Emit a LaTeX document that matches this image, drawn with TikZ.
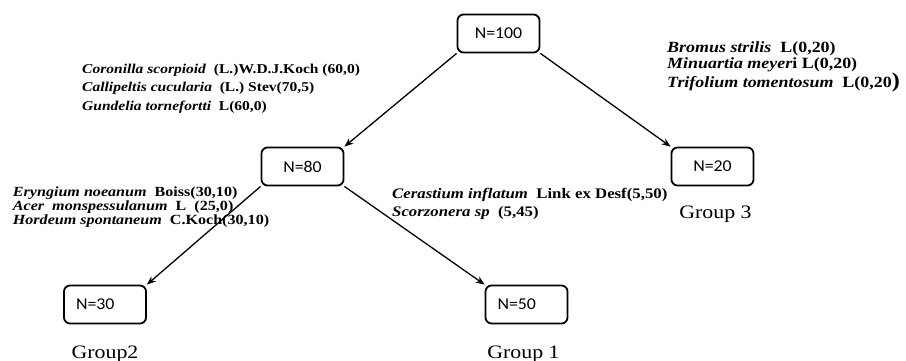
\documentclass[tikz,border=0pt]{standalone}
\usepackage{fontspec}
\setmainfont[FakeStretch=1.15]{Liberation Serif}
\newfontfamily\boxfont[FakeStretch=1.08]{Carlito}
\usetikzlibrary{arrows.meta,positioning,trees}

\newcommand{\taxon}[2]{\textbf{\textit{#1}}\ \ \textbf{#2}}

\begin{document}
\begin{tikzpicture}[x=1pt, y=1pt,
  level 1/.style={grow via three points={one child at (9,-133) and two children at (-196,-133) and (214,-133)}},
  level 2/.style={grow via three points={one child at (13,-138) and two children at (-197.5,-138) and (224,-138)}},
  edge from parent/.style={draw, line width=1.3pt, -{Stealth[length=9pt,width=7pt]}},
  toleft/.style={edge from parent path={(\tikzparentnode.south west) -- (\tikzchildnode.north east)}},
  toright/.style={edge from parent path={(\tikzparentnode.south east) -- (\tikzchildnode.north west)}},
  nbox/.style={draw, line width=1.8pt, rounded corners=6pt, minimum width=82pt, minimum height=38pt, font=\boxfont\fontsize{16.5}{16.5}\selectfont},
  lbox/.style={nbox, inner xsep=12pt, text width=58pt},
  taxa/.style={align=left, inner sep=0pt, anchor=north west},
  grp/.style={inner sep=0pt, font=\fontsize{19}{19}\selectfont}]

\useasboundingbox (0,0) rectangle (906,-361);

\node[nbox] (n100) at (498.5,-33.5) {N=100}
    child[toleft] {node[nbox] (n80) {N=80}
        child[toleft] {node[lbox] (n30) {N=30}}
        child[toright] {node[lbox] (n50) {N=50}}
    }
    child[toright] {node[nbox] (n20) {N=20}};

% species lists beside the splits
\node[taxa, font=\fontsize{13.5}{18.4}\selectfont] (sp100a) at (82,-64) {\taxon{Coronilla scorpioid}{(L.)W.D.J.Koch (60,0)}\\
    \taxon{Callipeltis cucularia}{(L.) Stev(70,5)}\\
    \taxon{Gundelia tornefortti}{L(60,0)}};
\node[taxa, font=\fontsize{15.6}{16.3}\selectfont] (sp100b) at (667,-41) {\taxon{Bromus strilis}{L(0,20)}\\
    \textbf{\textit{Minuartia meyer}i L(0,20)}\\
    \taxon{Trifolium tomentosum}{L(0,20{\fontsize{21}{21}\selectfont)}}};
\node[taxa, font=\fontsize{14}{13.6}\selectfont] (sp80a) at (12.7,-187) {\taxon{Eryngium noeanum}{Boiss(30,10)}\\
    \taxon{Acer\ \ monspessulanum}{L\ \ (25,0)}\\
    \taxon{Hordeum spontaneum}{C.Koch(30,10)}};
\node[taxa, font=\fontsize{14.6}{18.5}\selectfont] (sp80b) at (392,-188) {\taxon{Cerastium inflatum}{Link ex Desf(5,50)}\\
    \taxon{Scorzonera sp}{(5,45)}};

% group names under the leaves
\node[grp, below=21pt of n30] (g2) {Group2};
\node[grp, below=21pt of n50, xshift=-3pt] (g1) {Group 1};
\node[grp, below=19pt of n20, xshift=3pt] (g3) {Group 3};
\end{tikzpicture}
\end{document}
